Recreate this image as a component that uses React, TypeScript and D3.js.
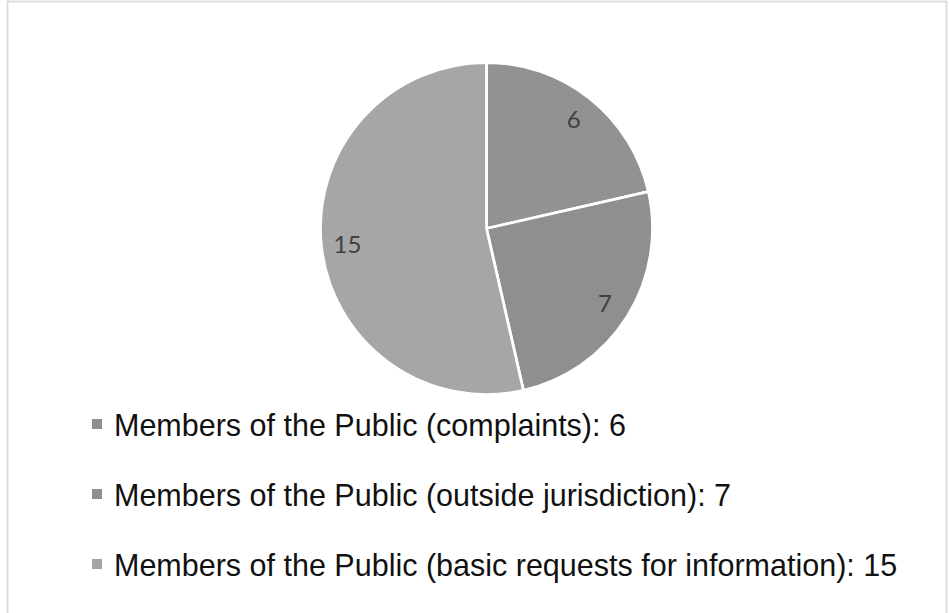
import React from "react";
import * as d3 from "d3";

const categories = [
  "Members of the Public (complaints)",
  "Members of the Public (outside jurisdiction)",
  "Members of the Public (basic requests for information)",
];
const values = [6, 7, 15];
const sliceColors = ["#929292", "#8f8f8f", "#a6a6a6"];
const legendColors = ["#8e8e8e", "#8e8e8e", "#a5a5a5"];

const W = 949;
const H = 613;

export default function App() {
  const cx = 486.5;
  const cy = 228.5;
  const r = 166;
  const pie = d3
    .pie<number>()
    .sort(null)
    .value((d) => d)
    .startAngle(0)
    .endAngle(2 * Math.PI);
  const arcs = pie(values);
  const arc = d3.arc<d3.PieArcDatum<number>>().innerRadius(0).outerRadius(r);
  const labelArc = d3
    .arc<d3.PieArcDatum<number>>()
    .innerRadius(140)
    .outerRadius(140);

  const legendY = d3
    .scaleLinear()
    .domain([0, 1])
    .range([436, 506]);

  return (
    <svg
      width={W}
      height={H}
      style={{ position: "absolute", left: 0, top: 0, background: "#fff" }}
    >
      <rect x={0} y={0} width={W} height={H} fill="#fff" />
      <rect
        x={7.5}
        y={1.5}
        width={939}
        height={H + 10}
        fill="#fff"
        stroke="#d9d9d9"
        strokeWidth={1.75}
      />
      <g transform={`translate(${cx},${cy})`}>
        {arcs.map((a, i) => (
          <path
            key={i}
            d={arc(a) || ""}
            fill={sliceColors[i]}
            stroke="#fff"
            strokeWidth={2.75}
            strokeLinejoin="round"
          />
        ))}
        {arcs.map((a, i) => {
          const [x, y] = labelArc.centroid(a);
          return (
            <text
              key={"l" + i}
              x={x}
              y={y}
              dy="0.36em"
              textAnchor="middle"
              fontFamily="Lato, 'Open Sans', sans-serif"
              fontSize={24}
              fill="#404040"
            >
              {values[i]}
            </text>
          );
        })}
      </g>
      {categories.map((c, i) => {
        const y = legendY(i);
        return (
          <g key={"lg" + i}>
            <rect
              x={92}
              y={y - 17}
              width={10}
              height={10}
              fill={legendColors[i]}
            />
            <text
              x={114}
              y={y}
              fontFamily="'Liberation Sans', Arial, sans-serif"
              fontSize={30.5}
              fill="#111"
            >
              {`${c}: ${values[i]}`}
            </text>
          </g>
        );
      })}
    </svg>
  );
}
